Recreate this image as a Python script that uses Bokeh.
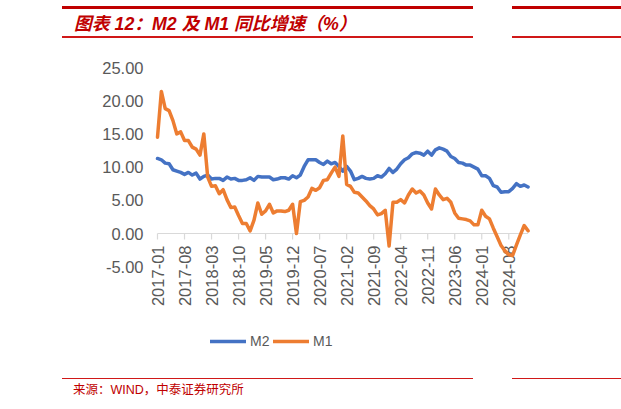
import math
import pandas as pd
from bokeh.plotting import figure
from bokeh.models import Div, Legend, LegendItem, FixedTicker, PrintfTickFormatter, Range1d
from bokeh.layouts import column
from bokeh.core.properties import value
from bokeh.embed import file_html
from bokeh.resources import INLINE

# ---------------- data ----------------
months = [p.strftime("%Y-%m") for p in pd.period_range("2017-01", "2025-01", freq="M")]

m2 = [
    11.3, 11.1, 10.6, 10.5, 9.6, 9.4, 9.2, 8.9, 9.2, 8.8, 9.1, 8.2,      # 2017
    8.6, 8.8, 8.2, 8.3, 8.3, 8.0, 8.5, 8.2, 8.3, 8.0, 8.0, 8.1,          # 2018
    8.4, 8.0, 8.6, 8.5, 8.5, 8.5, 8.1, 8.2, 8.4, 8.4, 8.2, 8.7,          # 2019
    8.4, 8.8, 10.1, 11.1, 11.1, 11.1, 10.7, 10.4, 10.9, 10.5, 10.7, 10.1, # 2020
    9.4, 10.1, 9.4, 8.1, 8.3, 8.6, 8.3, 8.2, 8.3, 8.7, 8.5, 9.0,         # 2021
    9.8, 9.2, 9.7, 10.5, 11.1, 11.4, 12.0, 12.2, 12.1, 11.8, 12.4, 11.8, # 2022
    12.6, 12.9, 12.7, 12.4, 11.6, 11.3, 10.7, 10.6, 10.3, 10.3, 10.0, 9.7, # 2023
    8.7, 8.7, 8.3, 7.2, 7.0, 6.2, 6.3, 6.3, 6.8, 7.5, 7.1, 7.3,          # 2024
    7.0,                                                                 # 2025
]

m1 = [
    14.5, 21.4, 18.8, 18.5, 17.0, 15.0, 15.3, 14.0, 14.0, 13.0, 12.7, 11.8, # 2017
    15.0, 8.5, 7.1, 7.2, 6.0, 6.6, 5.1, 3.9, 4.0, 2.7, 1.5, 1.5,           # 2018
    0.4, 2.0, 4.6, 2.9, 3.4, 4.4, 3.1, 3.4, 3.4, 3.3, 3.5, 4.4,            # 2019
    0.0, 4.8, 5.0, 5.5, 6.8, 6.5, 6.9, 8.0, 8.1, 9.1, 10.0, 8.6,           # 2020
    14.7, 7.4, 7.1, 6.2, 6.1, 5.5, 4.9, 4.2, 3.7, 2.8, 3.0, 3.5,           # 2021
    -1.9, 4.7, 4.7, 5.1, 4.6, 5.8, 6.7, 6.1, 6.4, 5.8, 4.6, 3.7,           # 2022
    6.7, 5.8, 5.1, 5.3, 4.7, 3.1, 2.3, 2.2, 2.1, 1.9, 1.3, 1.3,            # 2023
    3.5, 2.6, 2.2, 0.8, -0.5, -1.8, -2.6, -3.2, -3.3, -1.7, -0.2, 1.2,     # 2024
    0.4,                                                                   # 2025
]

tick_labels = ["2017-01", "2017-08", "2018-03", "2018-10", "2019-05", "2019-12",
               "2020-07", "2021-02", "2021-09", "2022-04", "2022-11", "2023-06",
               "2024-01", "2024-08"]
y_ticks = [-5, 0, 5, 10, 15, 20, 25]

idx = list(range(len(months)))
tick_x = [months.index(t) for t in tick_labels]

# ---------------- geometry ----------------
PX_Y = 6.64            # pixels per percentage point
PX_X = 3.86            # pixels per month
FRAME_TOP_GAP = 173    # px from frame top to zero line
FRAME_BOT_GAP = 137    # px from zero line to frame bottom
FRAME_W = 390
LEFT_PAD = 7           # px from frame left to first category

y_top = FRAME_TOP_GAP / PX_Y
y_bot = -FRAME_BOT_GAP / PX_Y
x_start = -LEFT_PAD / PX_X
x_end = x_start + FRAME_W / PX_X

GRAY = "#595959"
BLUE = "#4472C4"
ORANGE = "#ED7D31"
RED = "#c00000"

p = figure(width=621, height=330, output_backend="svg", toolbar_location=None,
           x_range=Range1d(x_start, x_end), y_range=Range1d(y_bot, y_top),
           x_axis_location=None, min_border_left=150, min_border_right=81,
           min_border_top=16, min_border_bottom=4, margin=0)
p.outline_line_color = None
p.xgrid.visible = False
p.ygrid.visible = False
p.background_fill_color = "white"
p.border_fill_color = "white"

yax = p.yaxis[0]
yax.ticker = FixedTicker(ticks=y_ticks)
yax.formatter = PrintfTickFormatter(format="%.2f")
yax.axis_line_color = None
yax.major_tick_line_color = None
yax.minor_tick_line_color = None
yax.major_tick_out = 0
yax.major_tick_in = 0
yax.minor_tick_out = 0
yax.minor_tick_in = 0
yax.major_label_standoff = 7
yax.major_label_text_font = "Liberation Sans"
yax.major_label_text_font_size = "16.5px"
yax.major_label_text_color = GRAY

# category axis drawn at zero
p.segment(x0=[idx[0]], y0=[0], x1=[idx[-1]], y1=[0], line_color="#d9d9d9", line_width=1.2)
p.segment(x0=tick_x, y0=[0] * len(tick_x), x1=tick_x, y1=[-6 / PX_Y] * len(tick_x),
          line_color="#d9d9d9", line_width=1.2)
p.text(x=tick_x, y=[-12 / PX_Y] * len(tick_x), text=tick_labels, angle=math.pi / 2,
       text_align="right", text_baseline="middle", text_font=value("Liberation Sans"),
       text_font_size="16.5px", text_color=GRAY)

r2 = p.line(x=idx, y=m2, line_color=BLUE, line_width=3.5, line_join="round", line_cap="round")
r1 = p.line(x=idx, y=m1, line_color=ORANGE, line_width=3.5, line_join="round", line_cap="round")

legend = Legend(items=[LegendItem(label="M2", renderers=[r2]),
                       LegendItem(label="M1", renderers=[r1])],
                location=(60, 21), orientation="horizontal", padding=0, margin=0,
                spacing=3, label_standoff=4, glyph_width=36, glyph_height=14,
                label_height=14, border_line_color=None, background_fill_alpha=0,
                label_text_font="Liberation Sans", label_text_font_size="14px",
                label_text_color=GRAY)
p.add_layout(legend)

header_html = f"""
<div style="position:relative;width:621px;height:44px;overflow:hidden;">
  <div style="position:absolute;left:62px;top:6px;width:411px;height:3px;background:{RED};"></div>
  <div style="position:absolute;left:512px;top:6px;width:109px;height:3px;background:{RED};"></div>
  <div style="position:absolute;left:74px;top:14px;line-height:21px;white-space:nowrap;
       font-family:'Liberation Sans','Noto Sans CJK SC';font-size:17.8px;font-weight:bold;
       font-style:italic;color:{RED};">图表 12：M2 及 M1 同比增速（%）</div>
  <div style="position:absolute;left:62px;top:36px;width:411px;height:1.5px;background:#d01818;"></div>
  <div style="position:absolute;left:512px;top:36px;width:109px;height:1.5px;background:#d01818;"></div>
</div>
"""

footer_html = f"""
<div style="position:relative;width:621px;height:35px;overflow:hidden;">
  <div style="position:absolute;left:62px;top:4px;width:411px;height:1.2px;background:#d01818;"></div>
  <div style="position:absolute;left:512px;top:4px;width:109px;height:1.2px;background:#d01818;"></div>
  <div style="position:absolute;left:73px;top:8px;line-height:16px;white-space:nowrap;
       font-family:'Liberation Sans','Noto Sans CJK SC';font-size:12.5px;
       color:{RED};">来源：WIND，中泰证券研究所</div>
</div>
"""

header = Div(text=header_html, width=621, height=44, margin=0)
footer = Div(text=footer_html, width=621, height=35, margin=0)

layout = column(header, p, footer, spacing=0, margin=0)

with open("out.html", "w") as f:
    f.write(file_html(layout, INLINE))
